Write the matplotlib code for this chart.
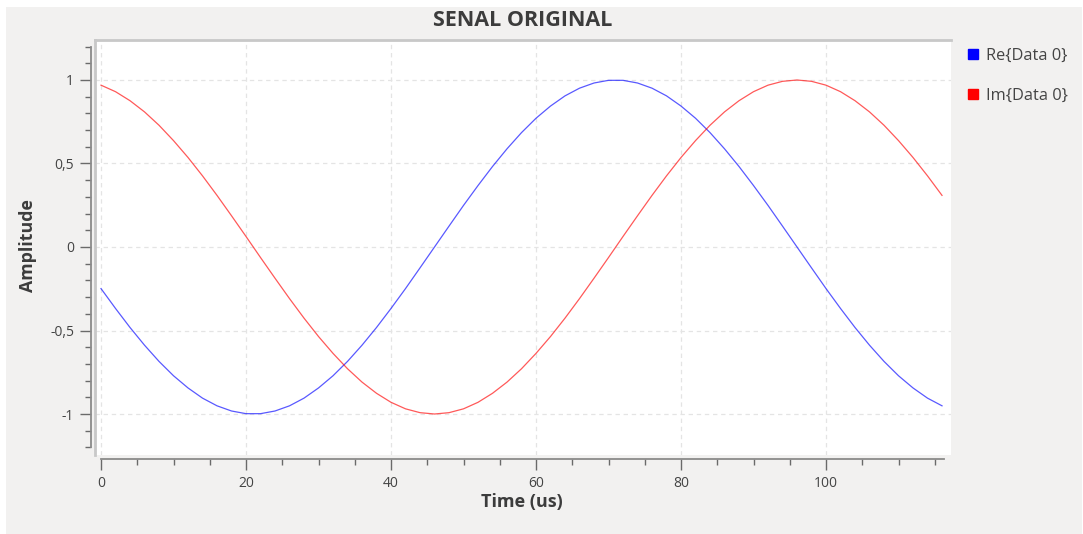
import matplotlib
matplotlib.use("Agg")
import matplotlib.pyplot as plt
from matplotlib.ticker import MultipleLocator, FuncFormatter
from matplotlib.lines import Line2D

# ---- data ----
time_us = [0, 2, 4, 6, 8, 10, 12, 14, 16, 18, 20, 22, 24, 26, 28, 30, 32, 34, 36, 38,
           40, 42, 44, 46, 48, 50, 52, 54, 56, 58, 60, 62, 64, 66, 68, 70, 72, 74, 76, 78,
           80, 82, 84, 86, 88, 90, 92, 94, 96, 98, 100, 102, 104, 106, 108, 110, 112, 114, 116]
re_data0 = [-0.249, -0.368, -0.482, -0.588, -0.685, -0.771, -0.844, -0.905, -0.951, -0.982,
            -0.998, -0.998, -0.982, -0.951, -0.905, -0.844, -0.771, -0.685, -0.588, -0.482,
            -0.368, -0.249, -0.125, 0.000, 0.125, 0.249, 0.368, 0.482, 0.588, 0.685,
            0.771, 0.844, 0.905, 0.951, 0.982, 0.998, 0.998, 0.982, 0.951, 0.905,
            0.844, 0.771, 0.685, 0.588, 0.482, 0.368, 0.249, 0.125, 0.000, -0.125,
            -0.249, -0.368, -0.482, -0.588, -0.685, -0.771, -0.844, -0.905, -0.951]
im_data0 = [0.969, 0.930, 0.876, 0.809, 0.729, 0.637, 0.536, 0.426, 0.309, 0.187,
            0.063, -0.063, -0.187, -0.309, -0.426, -0.536, -0.637, -0.729, -0.809, -0.876,
            -0.930, -0.969, -0.992, -1.000, -0.992, -0.969, -0.930, -0.876, -0.809, -0.729,
            -0.637, -0.536, -0.426, -0.309, -0.187, -0.063, 0.063, 0.187, 0.309, 0.426,
            0.536, 0.637, 0.729, 0.809, 0.876, 0.930, 0.969, 0.992, 1.000, 0.992,
            0.969, 0.930, 0.876, 0.809, 0.729, 0.637, 0.536, 0.426, 0.309]
series_labels = ["Re{Data 0}", "Im{Data 0}"]
series_colors = ["#0000ff", "#ff0000"]
title = "SENAL ORIGINAL"
xlabel = "Time (us)"
ylabel = "Amplitude"

W, H = 1083, 534
BG = "#f2f1f0"
TXT = "#3c3c3c"
plt.rcParams['font.family'] = ['Open Sans', 'DejaVu Sans']

fig = plt.figure(figsize=(W / 100, H / 100), dpi=100, facecolor=BG)

# white strips at top / left / right edge
fig.patches.append(plt.Rectangle((0, 1 - 7 / H), 1, 7 / H, transform=fig.transFigure,
                                 facecolor="white", edgecolor="none", zorder=-10))
fig.patches.append(plt.Rectangle((0, 0), 6 / W, 1, transform=fig.transFigure,
                                 facecolor="white", edgecolor="none", zorder=-10))
fig.patches.append(plt.Rectangle((1 - 1.5 / W, 0), 1.5 / W, 1, transform=fig.transFigure,
                                 facecolor="white", edgecolor="none", zorder=-10))

# canvas 95..951 x 40..455 (pixels, top origin)
cx0, cx1, cy0, cy1 = 95, 951, 40, 455
ax = fig.add_axes([cx0 / W, (H - cy1) / H, (cx1 - cx0) / W, (cy1 - cy0) / H])
ax.set_facecolor("white")

for lab, col, ys in zip(series_labels, series_colors, [re_data0, im_data0]):
    ax.plot(time_us, ys, color=col, lw=0.9, alpha=0.65, label=lab, zorder=3)

ax.set_xlim(-0.83, 117.24)
ax.set_ylim(-1.2455, 1.2395)

ax.xaxis.set_major_locator(MultipleLocator(20))
ax.xaxis.set_minor_locator(MultipleLocator(5))
ax.yaxis.set_major_locator(MultipleLocator(0.5))
ax.yaxis.set_minor_locator(MultipleLocator(0.1))

def yfmt(v, pos):
    if abs(v) < 1e-9:
        return "0"
    s = ("%g" % round(v, 2)).replace(".", ",")
    return s
ax.yaxis.set_major_formatter(FuncFormatter(yfmt))
ax.xaxis.set_major_formatter(FuncFormatter(lambda v, p: "%d" % round(v)))

ax.grid(True, which="major", color="#e4e4e4", linestyle=(0, (3.5, 3)), lw=0.9, zorder=0)

for s in ["top", "right"]:
    ax.spines[s].set_visible(False)
ax.spines["left"].set_position(("outward", 3))
ax.spines["bottom"].set_position(("outward", 3))
ax.spines["left"].set_bounds(-1.2, 1.2)
ax.spines["bottom"].set_bounds(0, 116.3)
for s in ["left", "bottom"]:
    ax.spines[s].set_color("#8a8a8a")
    ax.spines[s].set_linewidth(1.3)

ax.tick_params(which="major", direction="out", length=8, width=1, color="#6a6a6a",
               labelsize=10, labelcolor="#444444", pad=4)
ax.tick_params(which="minor", direction="out", length=4.3, width=1, color="#6a6a6a")

# sunken frame lines (top, left) of the canvas
ax.add_line(Line2D([0, 0], [0, 1], transform=ax.transAxes, color="#c8c8c8", lw=2,
                   clip_on=False, zorder=5))
ax.add_line(Line2D([0, 1], [1, 1], transform=ax.transAxes, color="#c8c8c8", lw=2,
                   clip_on=False, zorder=5))

fig.text(523 / W, 1 - 20.5 / H, title, ha="center", va="center", fontsize=15.5,
         fontweight="bold", color=TXT)
fig.text(522 / W, 1 - 502 / H, xlabel, ha="center", va="center", fontsize=13,
         fontweight="bold", color=TXT)
fig.text(28 / W, 1 - 246 / H, ylabel, ha="center", va="center", fontsize=12.8,
         fontweight="bold", color=TXT, rotation=90)

handles = [Line2D([], [], marker="s", linestyle="none", markersize=6.5, color=c)
           for c in series_colors]
fig.legend(handles, series_labels, loc="upper left",
           bbox_to_anchor=(961 / W, 1 - 41 / H), frameon=False, fontsize=11.8,
           labelcolor="#444444", handlelength=0.7, handletextpad=0.45,
           labelspacing=1.5, borderaxespad=0)

fig.savefig("out.png", dpi=100, facecolor=BG)
